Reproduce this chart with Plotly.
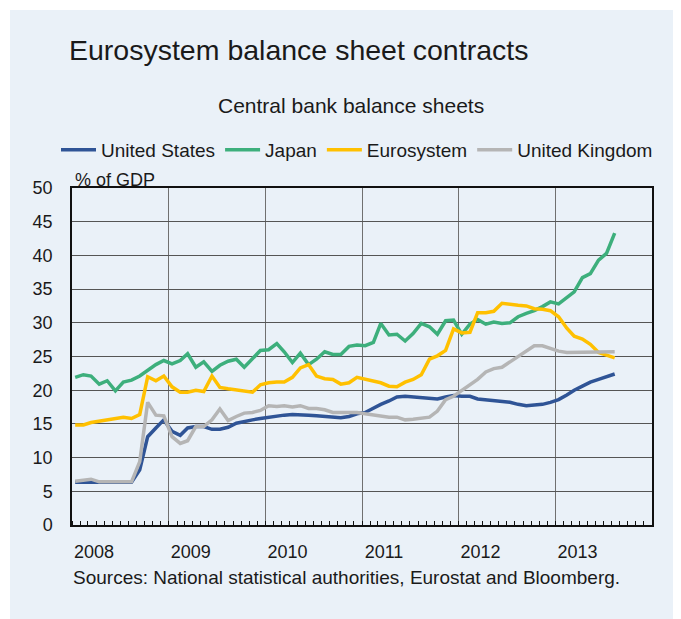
import plotly.graph_objects as go

# ---- data (monthly, Jan 2008 - Aug 2013, % of GDP) ----
months = [f"{y}-{m:02d}-13" for y in range(2008, 2014) for m in range(1, 13)][:68]

united_states = [6.35, 6.35, 6.35, 6.25, 6.25, 6.25, 6.3, 6.35, 8.2, 13.1,
                 14.4, 15.6, 13.9, 13.3, 14.4, 14.6, 14.6, 14.2, 14.2, 14.5,
                 15.1, 15.4, 15.6, 15.8, 16.0, 16.1, 16.3, 16.4, 16.4, 16.3,
                 16.2, 16.1, 15.9, 15.9, 16.1, 16.5, 16.7, 17.4, 17.9, 18.4,
                 19.0, 19.1, 19.0, 18.9, 18.8, 18.7, 19.0, 19.2, 19.1, 19.1,
                 18.7, 18.6, 18.4, 18.3, 18.2, 17.9, 17.7, 17.8, 17.9, 18.2,
                 18.6, 19.3, 20.0, 20.6, 21.2, 21.6, 22.0, 22.4]

japan = [21.9, 22.3, 22.1, 20.9, 21.4, 19.9, 21.2, 21.5, 22.1, 23.0,
         23.8, 24.4, 23.9, 24.4, 25.4, 23.4, 24.2, 22.8, 23.7, 24.3,
         24.6, 23.4, 24.7, 25.9, 26.0, 26.9, 25.7, 24.1, 25.5, 23.8,
         24.6, 25.7, 25.3, 25.3, 26.5, 26.7, 26.6, 27.1, 29.9, 28.2,
         28.3, 27.3, 28.4, 29.9, 29.4, 28.3, 30.3, 30.4, 28.3, 29.8,
         30.5, 29.8, 30.1, 29.9, 30.0, 30.9, 31.4, 31.8, 32.4, 33.1,
         32.8, 33.7, 34.6, 36.7, 37.3, 39.3, 40.3, 43.3]

eurosystem = [14.85, 14.85, 15.2, 15.4, 15.6, 15.7, 16.0, 15.8, 16.4, 22.0,
              21.4, 22.1, 20.5, 19.7, 19.7, 20.0, 19.8, 22.1, 20.4, 20.2,
              20.0, 19.9, 19.7, 20.8, 21.1, 21.2, 21.2, 21.9, 23.3, 23.8,
              22.1, 21.7, 21.6, 20.9, 21.1, 21.9, 21.6, 21.4, 21.1, 20.6,
              20.5, 21.2, 21.6, 22.3, 24.6, 25.1, 25.9, 29.1, 28.5, 28.6,
              31.5, 31.5, 31.7, 32.9, 32.7, 32.6, 32.5, 32.1, 32.0, 31.8,
              30.9, 29.2, 28.0, 27.6, 26.8, 25.6, 25.2, 24.8]

united_kingdom = [6.5, 6.7, 6.8, 6.4, 6.4, 6.3, 6.4, 6.4, 9.4, 18.2,
                  16.3, 16.2, 13.1, 12.1, 12.5, 14.6, 14.6, 15.6, 17.2, 15.5,
                  16.1, 16.6, 16.7, 17.0, 17.7, 17.6, 17.7, 17.5, 17.7, 17.3,
                  17.3, 17.1, 16.7, 16.7, 16.7, 16.7, 16.5, 16.3, 16.2, 16.0,
                  16.0, 15.6, 15.7, 15.9, 16.0, 16.9, 18.6, 19.1, 19.9, 20.8,
                  21.6, 22.7, 23.2, 23.4, 24.2, 25.1, 25.8, 26.6, 26.6, 26.2,
                  25.8, 25.6, 25.6, 25.6, 25.6, 25.7, 25.7, 25.7]

series_names = ["United States", "Japan", "Eurosystem", "United Kingdom"]
series_colors = ["#2f5496", "#3daf7c", "#ffc000", "#b5b5b5"]

year_ticks = [f"{y}-01-01" for y in range(2008, 2015)]
year_labels = ["2008", "2009", "2010", "2011", "2012", "2013", ""]
y_ticks = list(range(0, 55, 5))

FONT = "Liberation Sans, Arial, sans-serif"
TXT = "#1a1a1a"
PANEL = "#eaf1f8"

fig = go.Figure()
for name, vals, col in zip(series_names,
                           [united_states, japan, eurosystem, united_kingdom],
                           series_colors):
    fig.add_trace(go.Scatter(x=months, y=vals, mode="lines", name=name,
                             line=dict(color=col, width=3.5)))

# page body has an 8px margin: lay out in window pixels, then offset
OFF = 8
W, H = 681, 619
PL, PR, PT, PB = 72, 652, 188, 525          # plot box in window pixels
L, R, T, B = PL - OFF, W - (PR - OFF), PT - OFF, H - (PB - OFF)
pw, ph = PR - PL, PB - PT


def px(x):
    return (x - PL) / pw


def py(y):
    return (PB - y) / ph


fig.update_layout(
    width=W, height=H,
    margin=dict(l=L, r=R, t=T, b=B),
    paper_bgcolor=PANEL,
    plot_bgcolor="rgba(0,0,0,0)",
    font=dict(family=FONT, color=TXT, size=18),
    title=dict(text="Eurosystem balance sheet contracts",
               font=dict(size=28.5, family=FONT, color=TXT),
               x=(69 - OFF) / W, xanchor="left", xref="container",
               y=1 - (50 - OFF) / H, yanchor="middle", yref="container"),
    showlegend=True,
    legend=dict(orientation="h", x=px(56), xanchor="left",
                y=py(150), yanchor="middle", itemwidth=35,
                font=dict(size=19, family=FONT, color=TXT),
                bgcolor="rgba(0,0,0,0)", borderwidth=0,
                traceorder="normal"),
    xaxis=dict(type="date", range=["2008-01-01", "2014-01-01"],
               tickmode="array", tickvals=year_ticks, ticktext=year_labels,
               ticks="", showgrid=True, gridcolor="#707070", gridwidth=1,
               showline=True, linecolor="#111111", linewidth=1.5, mirror=True,
               zeroline=False, ticklabelshift=22, ticklabelstandoff=10,
               tickfont=dict(size=18, family=FONT, color=TXT),
               minor=dict(dtick="M1", ticks="inside", ticklen=4,
                          tickcolor="#111111", tickwidth=1, showgrid=False)),
    yaxis=dict(range=[0, 50], tickmode="array", tickvals=y_ticks,
               ticks="", showgrid=True, gridcolor="#555555", gridwidth=1,
               showline=True, linecolor="#111111", linewidth=1.5, mirror=True,
               zeroline=False, ticklabelstandoff=14,
               tickfont=dict(size=18, family=FONT, color=TXT)),
    shapes=[
        dict(type="rect", xref="paper", yref="paper",
             x0=px(-20), x1=px(10), y0=py(700), y1=py(-20),
             fillcolor="white", line=dict(width=0), layer="below"),
        dict(type="rect", xref="paper", yref="paper",
             x0=px(-20), x1=px(700), y0=py(10), y1=py(-20),
             fillcolor="white", line=dict(width=0), layer="below"),
    ],
    annotations=[
        dict(text="Central bank balance sheets", xref="paper", yref="paper",
             x=px(351), y=py(105), xanchor="center", yanchor="middle",
             showarrow=False, font=dict(size=21, family=FONT, color=TXT)),
        dict(text="% of GDP", xref="paper", yref="paper",
             x=px(73), y=py(180), xanchor="left", yanchor="middle",
             showarrow=False, font=dict(size=18, family=FONT, color=TXT)),
        dict(text="Sources: National statistical authorities, Eurostat and Bloomberg.",
             xref="paper", yref="paper", x=px(71), y=py(577),
             xanchor="left", yanchor="middle", showarrow=False,
             font=dict(size=19, family=FONT, color=TXT)),
    ],
)

fig.write_html("out.html", config={"displayModeBar": False})
